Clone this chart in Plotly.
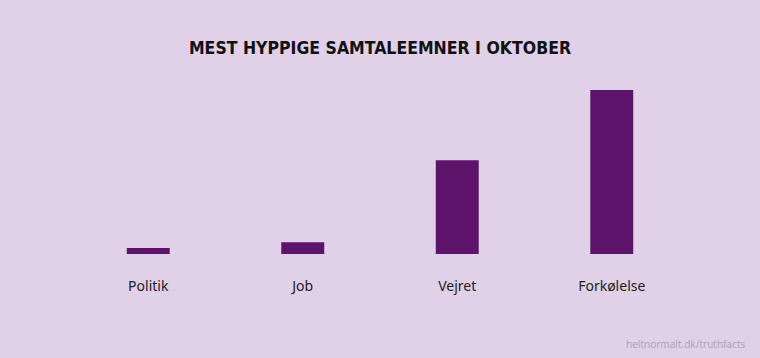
import plotly.graph_objects as go

categories = ["Politik", "Job", "Vejret", "Forkølelse"]
values = [3.7, 7.1, 57.1, 100]
title_text = "MEST HYPPIGE SAMTALEEMNER I OKTOBER"
source_text = "heltnormalt.dk/truthfacts"

BG = "#e0d0e8"
BAR = "#5e146b"

fig = go.Figure(go.Bar(
    x=categories, y=values, width=0.278,
    marker=dict(color=BAR, line=dict(width=0)),
    hoverinfo="skip",
))

fig.update_layout(
    width=760, height=358,
    margin=dict(l=70.7, r=70.7, t=90, b=104),
    paper_bgcolor=BG, plot_bgcolor=BG,
    showlegend=False,
    title=dict(
        text=title_text,
        x=0.5, xanchor="center", y=1 - 48 / 358, yanchor="middle",
        font=dict(family="DejaVu Sans Condensed, DejaVu Sans, sans-serif", size=17.5,
                  weight="bold", color="#111111"),
    ),
    xaxis=dict(
        range=[-0.5, 3.5], showgrid=False, zeroline=False, showline=False,
        ticks="", ticklabelstandoff=22,
        tickfont=dict(family="Noto Sans", size=14, color="#222222"),
        fixedrange=True,
    ),
    yaxis=dict(
        range=[0, 100], visible=False, showgrid=False, zeroline=False,
        fixedrange=True,
    ),
    annotations=[dict(
        text=source_text, xref="paper", yref="paper",
        x=(748 - 70.7) / 618.6, xanchor="right",
        y=-(344 - 254) / 164, yanchor="middle",
        showarrow=False,
        font=dict(family="Noto Sans", size=10, color="#b4a3bd"),
    )],
)

fig.write_html("out.html")
